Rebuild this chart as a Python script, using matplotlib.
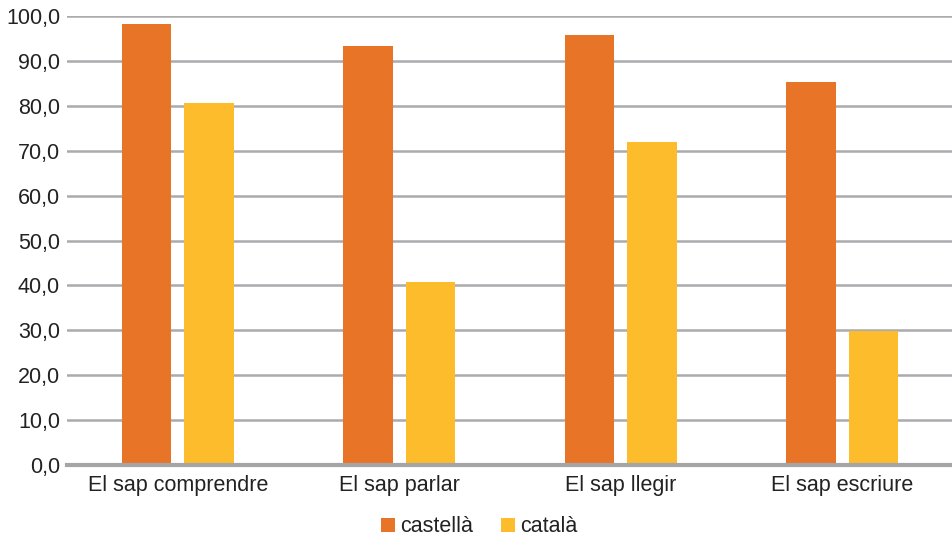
import matplotlib
matplotlib.use("Agg")
import matplotlib.pyplot as plt
import numpy as np
from matplotlib.ticker import FuncFormatter

categories = ["El sap comprendre", "El sap parlar", "El sap llegir", "El sap escriure"]
castella = [98.2, 93.3, 95.8, 85.3]
catala = [80.6, 40.8, 71.9, 29.8]
series_names = ["castellà", "català"]
colors = ["#E87428", "#FDBC2B"]

plt.rcParams['font.family'] = ['Liberation Sans', 'DejaVu Sans']

fig = plt.figure(figsize=(9.53, 5.41), dpi=100)
ax = fig.add_axes([67/953, 1 - 465/541, 886/953, 449/541])

x = np.arange(len(categories))
w = 0.222
off = 0.141
ax.bar(x - off, castella, width=w, color=colors[0], label=series_names[0], zorder=3)
ax.bar(x + off, catala, width=w, color=colors[1], label=series_names[1], zorder=3)

ax.set_xlim(-0.5, len(categories) - 0.5)
ax.set_ylim(0, 100)
ax.set_yticks(np.arange(0, 101, 10))
ax.yaxis.set_major_formatter(FuncFormatter(lambda v, p: f"{v:.1f}".replace(".", ",")))
ax.set_xticks(x)
ax.set_xticklabels(categories)
ax.tick_params(axis='both', length=0, labelsize=15.5, colors='#222222')
ax.tick_params(axis='y', pad=5)
ax.tick_params(axis='x', pad=7)
ax.yaxis.grid(True, color='#AAAAAF', linewidth=1.8, zorder=0)
ax.set_axisbelow(True)
for s in ['top', 'right', 'left']:
    ax.spines[s].set_visible(False)
ax.spines['bottom'].set_color('#A5A5A8')
ax.spines['bottom'].set_linewidth(3)
ax.spines['bottom'].set_zorder(4)

fig.legend(loc='center', bbox_to_anchor=(479/953, 1 - 527/541), ncol=2, frameon=False,
           fontsize=15.5, handlelength=0.65, handleheight=0.65, handletextpad=0.25,
           columnspacing=1.3, labelcolor='#222222')

fig.savefig("out.png", dpi=100)
